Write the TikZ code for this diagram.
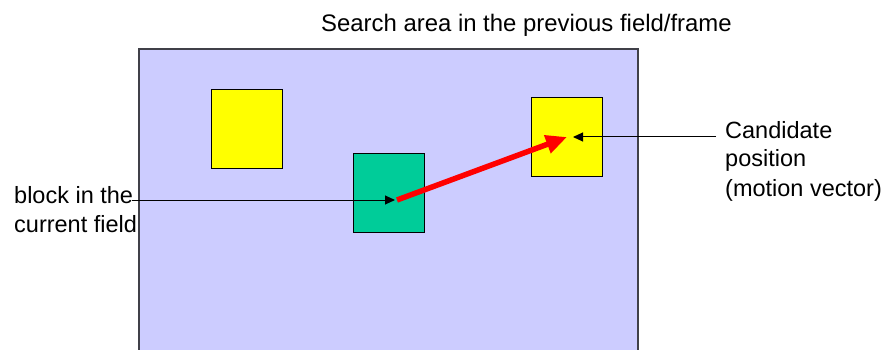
\documentclass[tikz,border=0pt]{standalone}
\usepackage{fontspec}
\setmainfont{Liberation Sans}
\usetikzlibrary{arrows.meta}
\definecolor{areafill}{HTML}{CCCCFF}
\definecolor{areaedge}{HTML}{404048}
\definecolor{blkyellow}{HTML}{FFFF00}
\definecolor{blkgreen}{HTML}{00CC99}
\begin{document}
\begin{tikzpicture}[x=1pt,y=-1pt,
  blockbox/.style={draw=black,line width=1pt,minimum width=71pt,minimum height=79pt,inner sep=0pt,anchor=north west},
  lbl/.style={font=\fontsize{23.5}{29}\selectfont,inner sep=0pt,align=left},
  pointer/.style={draw=black,line width=1pt,-{Triangle[length=10pt,width=9pt]}}]
\useasboundingbox (0,0) rectangle (886,350);
\clip (0,0) rectangle (886,350);
\filldraw[fill=areafill,draw=areaedge,line width=1.5pt] (139,49) rectangle (638,360);
\node[lbl,anchor=base west,font=\fontsize{23.9}{29}\selectfont] (title) at (321,32) {Search area in the previous field/frame};
\node[blockbox,fill=blkyellow] (y1) at (211,89) {};
\node[blockbox,fill=blkyellow] (y2) at (531,97) {};
\node[blockbox,fill=blkgreen] (g) at (353,153) {};
\coordinate (rs) at (397,200);
\coordinate (re) at (567,137);
\node[lbl,anchor=base west] (left) at (14,232) {block in the\\current field};
\node[lbl,anchor=base west] (right) at (725,196) {Candidate\\position\\(motion vector)};
\coordinate (lstart) at (132,200);
\coordinate (rstart) at (716,137);
\draw[draw=red,line width=5.5pt,-{Triangle[length=21pt,width=18pt]}] (rs) -- (re);
\draw[pointer] (lstart) -- ([xshift=-2pt]rs);
\draw[pointer] (rstart) -- ([xshift=6pt]re);
\end{tikzpicture}
\end{document}
